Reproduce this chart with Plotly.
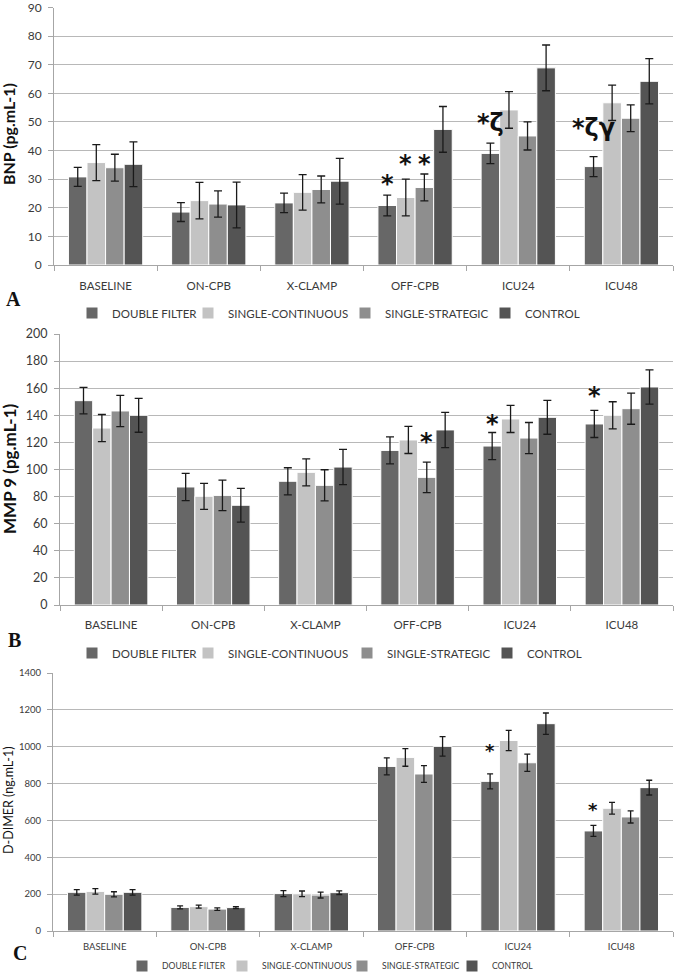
import plotly.graph_objects as go

categories = ["BASELINE", "ON-CPB", "X-CLAMP", "OFF-CPB", "ICU24", "ICU48"]
series_names = ["DOUBLE FILTER", "SINGLE-CONTINUOUS", "SINGLE-STRATEGIC", "CONTROL"]
series_colors = ["#676767", "#c3c3c3", "#8e8e8e", "#545454"]

# Panel A: BNP (pg.mL-1)
bnp_double = [30.8, 18.5, 21.7, 20.8, 39.0, 34.4]
bnp_single_cont = [35.8, 22.5, 25.4, 23.6, 54.2, 56.7]
bnp_single_strat = [34.0, 21.3, 26.4, 27.1, 45.1, 51.3]
bnp_control = [35.2, 21.0, 29.3, 47.4, 68.9, 64.2]
bnp_double_err = [3.3, 3.3, 3.4, 3.6, 3.6, 3.5]
bnp_single_cont_err = [6.3, 6.4, 6.2, 6.4, 6.4, 6.2]
bnp_single_strat_err = [4.7, 4.6, 4.7, 4.7, 4.9, 4.7]
bnp_control_err = [7.8, 8.0, 8.0, 8.0, 8.0, 7.9]

# Panel B: MMP 9 (pg.mL-1)
mmp_double = [150.8, 87.1, 91.3, 114.1, 117.3, 133.6]
mmp_single_cont = [130.6, 80.2, 97.9, 121.8, 137.3, 140.0]
mmp_single_strat = [143.2, 80.9, 88.3, 94.2, 123.2, 144.9]
mmp_control = [140.0, 73.6, 101.8, 129.2, 138.5, 160.9]
mmp_double_err = [9.8, 10.0, 10.0, 10.0, 10.0, 10.0]
mmp_single_cont_err = [10.0, 9.6, 10.0, 10.0, 10.0, 10.0]
mmp_single_strat_err = [11.5, 11.3, 11.5, 11.3, 11.5, 11.5]
mmp_control_err = [12.5, 12.5, 13.0, 13.0, 12.5, 12.6]

# Panel C: D-DIMER (ng.mL-1)
dd_double = [210, 128, 203, 893, 812, 543]
dd_single_cont = [215, 132, 202, 942, 1034, 666]
dd_single_strat = [199, 119, 195, 852, 913, 619]
dd_control = [210, 127, 208, 1002, 1125, 778]
dd_double_err = [15, 8, 16, 46, 41, 30]
dd_single_cont_err = [15, 8, 15, 48, 55, 32]
dd_single_strat_err = [14, 7, 16, 45, 47, 33]
dd_control_err = [15, 5, 10, 53, 58, 40]

# significance marks: (category, series index, y value, text)
bnp_marks = [("OFF-CPB", 0, 28.3, "*"), ("OFF-CPB", 1, 35.2, "*"), ("OFF-CPB", 2, 35.2, "*"),
             ("ICU24", 0, 49.6, "*ζ"), ("ICU48", 0, 47.9, "*ζγ")]
mmp_marks = [("OFF-CPB", 2, 120.5, "*"), ("ICU24", 0, 133.6, "*"), ("ICU48", 0, 154.2, "*")]
dd_marks = [("ICU24", 0, 980, "*"), ("ICU48", 0, 662, "*")]

W, H = 675, 972
FONT = "Lato"
TXT = "#3a3a3a"

panels = [
    dict(vals=[bnp_double, bnp_single_cont, bnp_single_strat, bnp_control],
         errs=[bnp_double_err, bnp_single_cont_err, bnp_single_strat_err, bnp_control_err],
         marks=bnp_marks, ymax=90, dtick=10, top=7.5, bottom=265, left=54, right=673,
         tickfont=12, catfont=11.5, standoff=10, capw=4, legend="legend",
         legy=313, legx=72, legfont=11.5, legw=[71, 112, 95, 60], starsize=24,
         title="BNP (pg.mL-1)", tsize=16, tbold=True,
         tx=9, ty=134, label="A", lx=13, ly=299),
    dict(vals=[mmp_double, mmp_single_cont, mmp_single_strat, mmp_control],
         errs=[mmp_double_err, mmp_single_cont_err, mmp_single_strat_err, mmp_control_err],
         marks=mmp_marks, ymax=200, dtick=20, top=334, bottom=605, left=60, right=673,
         tickfont=12.5, catfont=11.5, standoff=9, capw=4, legend="legend2",
         legy=653, legx=72, legfont=11.5, legw=[71, 114, 95, 60], starsize=24,
         title="MMP 9 (pg.mL-1)", tsize=17, tbold=True,
         tx=9, ty=469, label="B", lx=14, ly=640),
    dict(vals=[dd_double, dd_single_cont, dd_single_strat, dd_control],
         errs=[dd_double_err, dd_single_cont_err, dd_single_strat_err, dd_control_err],
         marks=dd_marks, ymax=1400, dtick=200, top=673, bottom=931, left=53, right=673,
         tickfont=9.5, catfont=9.5, standoff=7, capw=3, legend="legend3",
         legy=966, legx=122, legfont=8.6, legw=[55, 75, 65, 50], starsize=18,
         title="D-DIMER (ng.mL-1)", tsize=12.5, tbold=False,
         tx=8, ty=800, label="C", lx=20, ly=953),
]

fig = go.Figure()
annotations = []
layout = {}
for p_i, p in enumerate(panels):
    suffix = "" if p_i == 0 else str(p_i + 1)
    xa, ya = "x" + suffix, "y" + suffix
    for s_i in range(4):
        fig.add_trace(go.Bar(
            x=categories, y=p["vals"][s_i], name=series_names[s_i],
            marker=dict(color=series_colors[s_i], line=dict(color="white", width=1)),
            error_y=dict(type="data", array=p["errs"][s_i], visible=True,
                         color="#1a1a1a", thickness=1.3, width=p["capw"]),
            xaxis=xa, yaxis=ya, legend=p["legend"], legendwidth=p["legw"][s_i],
        ))
    layout["xaxis" + suffix] = dict(
        domain=[p["left"] / W, p["right"] / W], anchor=ya, type="category",
        showline=True, linecolor="#a6a6a6", linewidth=1, ticks="outside",
        tickson="boundaries", ticklen=5, tickcolor="#a6a6a6", showgrid=False,
        tickfont=dict(family=FONT, size=p["catfont"], color=TXT),
        ticklabelstandoff=p["standoff"], ticklabeloverflow="allow", fixedrange=True,
    )
    layout["yaxis" + suffix] = dict(
        domain=[1 - p["bottom"] / H, 1 - p["top"] / H], anchor=xa,
        range=[0, p["ymax"]], dtick=p["dtick"], showgrid=True, gridcolor="#b8b8b8",
        gridwidth=1, showline=True, linecolor="#a6a6a6", ticks="outside", ticklen=5,
        tickcolor="#a6a6a6", zeroline=False,
        tickfont=dict(family=FONT, size=p["tickfont"], color=TXT),
        ticklabelstandoff=4, ticklabeloverflow="allow",
    )
    layout[p["legend"]] = dict(
        orientation="h", x=p["legx"] / W, xanchor="left", y=1 - p["legy"] / H,
        yanchor="middle", font=dict(family=FONT, size=p["legfont"], color=TXT),
        bgcolor="rgba(0,0,0,0)", traceorder="normal",
    )
    for cat, s_i, yv, txt in p["marks"]:
        xpos = categories.index(cat) - 0.27 + 0.18 * s_i
        annotations.append(dict(
            x=xpos, y=yv, xref=xa, yref=ya, text=("<b>" + txt + "</b>"), showarrow=False,
            font=dict(family="DejaVu Sans", size=p["starsize"], color="#111"),
            xanchor="center", yanchor="middle",
        ))
    annotations.append(dict(
        x=p["tx"] / W, y=1 - p["ty"] / H, xref="paper", yref="paper",
        text=("<b>" + p["title"] + "</b>") if p["tbold"] else p["title"],
        textangle=-90, showarrow=False, xanchor="center", yanchor="middle",
        font=dict(family=FONT, size=p["tsize"], color="#111"),
    ))
    annotations.append(dict(
        x=p["lx"] / W, y=1 - p["ly"] / H, xref="paper", yref="paper",
        text="<b>" + p["label"] + "</b>", showarrow=False, xanchor="center", yanchor="middle",
        font=dict(family="Liberation Serif", size=20, color="#111"),
    ))

fig.update_layout(
    width=W, height=H, margin=dict(l=0, r=0, t=0, b=0, autoexpand=False),
    paper_bgcolor="white", plot_bgcolor="white",
    barmode="group", bargap=0.28, bargroupgap=0,
    annotations=annotations, **layout,
)
fig.write_html(
    "out.html",
    config={"displayModeBar": False},
    post_script="document.body.style.margin='0px';document.body.style.padding='0px';"
                "document.body.style.overflow='hidden';",
)
